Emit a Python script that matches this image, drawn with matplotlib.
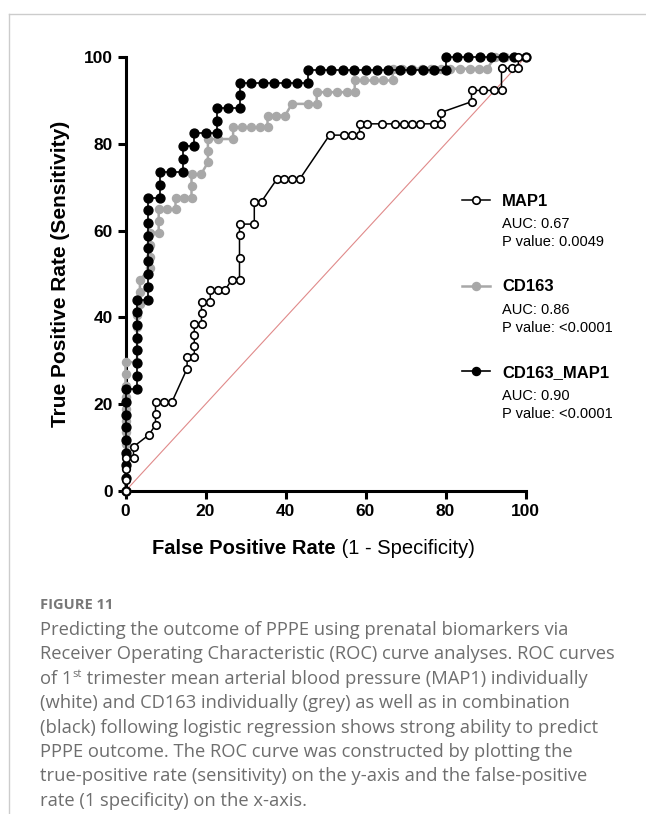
import matplotlib
matplotlib.use("Agg")
import matplotlib.pyplot as plt
from matplotlib.lines import Line2D

plt.rcParams["font.family"] = ["Liberation Sans", "DejaVu Sans"]

# ROC points (FPR %, TPR %)
map1_fpr = [0, 0, 0, 0, 2, 2, 5.8, 7.5, 7.5, 7.5, 9.5, 11.6, 15.4, 15.4, 17.2, 17.2,
            17.2, 17.2, 19, 19, 19, 21.2, 21.2, 23, 24.8, 26.6, 28.5, 28.5, 28.5, 28.5,
            32.2, 32.2, 34, 37.8, 39.6, 41.5, 43.5, 51, 54.5, 56.5, 58.5, 58.5, 60.3,
            64, 67.4, 69.5, 71.6, 73.5, 77, 78.8, 78.8, 86.5, 86.5, 89.4, 92, 94, 94,
            96.5, 98.2, 98.2, 100]
map1_tpr = [0, 2.5, 5, 7.6, 7.6, 10.2, 12.9, 15.2, 17.7, 20.5, 20.5, 20.5, 28.2, 30.8,
            30.8, 33.3, 35.9, 38.5, 38.5, 41, 43.6, 43.6, 46.2, 46.2, 46.2, 48.7, 48.7,
            53.8, 59, 61.5, 61.5, 66.7, 66.7, 71.8, 71.8, 71.8, 71.8, 82, 82, 82, 82,
            84.6, 84.6, 84.6, 84.6, 84.6, 84.6, 84.6, 84.6, 84.6, 87.2, 89.7, 92.3, 92.3,
            92.3, 92.3, 97.4, 97.4, 97.4, 100, 100]

cd163_fpr = [0, 0, 0, 0, 0, 0, 0, 0, 0, 0, 0, 0, 2.9, 2.9, 2.9, 2.9, 2.9, 3.6, 3.6,
             3.6, 6, 6, 6, 6, 8.3, 8.3, 8.3, 10.4, 12.5, 12.5, 14.5, 16.5, 16.5, 16.5,
             18.9, 20.6, 20.6, 20.6, 23.2, 26.9, 26.9, 29.1, 31.3, 33.5, 35.5, 35.5,
             37.7, 39.9, 41.6, 45.7, 47.8, 47.8, 50.3, 52.8, 55.3, 57.3, 57.3, 59.6, 62,
             64.4, 66.8, 66.8, 69.2, 71.6, 74, 76.4, 78.8, 81.2, 83.6, 86, 88.4, 90.4,
             92.4, 94.8, 97.2, 100]
cd163_tpr = [0, 2.7, 5.4, 8.1, 10.8, 13.5, 16.2, 18.9, 21.6, 24.3, 27, 29.7, 29.7, 32.4,
             35.1, 37.8, 40.5, 43.2, 45.9, 48.6, 51.3, 54, 56.7, 59.5, 59.5, 62.2, 64.9,
             64.9, 64.9, 67.6, 67.6, 67.6, 70.3, 73, 73, 75.7, 78.4, 81.1, 81.1, 81.1,
             83.8, 83.8, 83.8, 83.8, 83.8, 86.5, 86.5, 86.5, 89.2, 89.2, 89.2, 91.9, 91.9,
             91.9, 91.9, 91.9, 94.6, 94.6, 94.6, 94.6, 94.6, 97.3, 97.3, 97.3, 97.3,
             97.3, 97.3, 97.3, 97.3, 97.3, 97.3, 97.3, 100, 100, 100, 100]

combo_fpr = [0, 0, 0, 0, 0, 0, 0, 0, 0, 2.9, 2.9, 2.9, 2.9, 2.9, 2.9, 2.9, 2.9, 5.7,
             5.7, 5.7, 5.7, 5.7, 5.7, 5.7, 5.7, 5.7, 8.6, 8.6, 8.6, 11.4, 14.3, 14.3,
             14.3, 17.1, 17.1, 20, 22.9, 22.9, 22.9, 25.7, 28.6, 28.6, 28.6, 31.4, 34.3,
             37.1, 40, 42.9, 45.7, 45.7, 48.6, 51.4, 54.3, 57.1, 60, 62.9, 65.7, 68.6,
             71.4, 74.3, 77.1, 80, 80, 82.9, 85.7, 88.6, 91.4, 94.3, 97.1, 100]
combo_tpr = [0, 2.9, 5.9, 8.8, 11.8, 14.7, 17.6, 20.6, 23.5, 23.5, 26.5, 29.4, 32.4,
             35.3, 38.2, 41.2, 44.1, 44.1, 47.1, 50, 52.9, 55.9, 58.8, 61.8, 64.7, 67.6,
             67.6, 70.6, 73.5, 73.5, 73.5, 76.5, 79.4, 79.4, 82.4, 82.4, 82.4, 85.3,
             88.2, 88.2, 88.2, 91.2, 94.1, 94.1, 94.1, 94.1, 94.1, 94.1, 94.1, 97.1,
             97.1, 97.1, 97.1, 97.1, 97.1, 97.1, 97.1, 97.1, 97.1, 97.1, 97.1, 97.1,
             100, 100, 100, 100, 100, 100, 100, 100]

chance = [0, 100]
ticks = [0, 20, 40, 60, 80, 100]

names = ["MAP1", "CD163", "CD163_MAP1"]
stats = [("AUC: 0.67", "P value: 0.0049"),
         ("AUC: 0.86", "P value: <0.0001"),
         ("AUC: 0.90", "P value: <0.0001")]

caption = [
    "Predicting the outcome of PPPE using prenatal biomarkers via",
    "Receiver Operating Characteristic (ROC) curve analyses. ROC curves",
    None,
    "(white) and CD163 individually (grey) as well as in combination",
    "(black) following logistic regression shows strong ability to predict",
    "PPPE outcome. The ROC curve was constructed by plotting the",
    "true-positive rate (sensitivity) on the y-axis and the false-positive",
    "rate (1 specificity) on the x-axis.",
]

W, H = 646, 814
fig = plt.figure(figsize=(W / 100, H / 100), dpi=100)
fig.patch.set_facecolor("white")

def fx(px):
    return px / W

def fy(py):
    return 1 - py / H

ax = fig.add_axes([fx(125.5), fy(491), 400 / W, 434 / H])
ax.set_xlim(0, 100)
ax.set_ylim(0, 100)
for s in ["top", "right"]:
    ax.spines[s].set_visible(False)
for s in ["left", "bottom"]:
    ax.spines[s].set_linewidth(2.2)
ax.tick_params(direction="out", length=6, width=2.2, pad=3, labelsize=12.5)
ax.set_xticks(ticks, labels=[str(t) for t in ticks], fontweight="bold")
ax.set_yticks(ticks, labels=[str(t) for t in ticks], fontweight="bold")

ax.plot(chance, chance, color="#e08a8a", lw=0.8, zorder=2)
ax.plot(cd163_fpr, cd163_tpr, color="#a8a8a8", lw=1.8, marker="o", ms=5.8,
        mfc="#a8a8a8", mec="#a8a8a8", clip_on=False, zorder=3)
ax.plot(combo_fpr, combo_tpr, color="black", lw=1.2, marker="o", ms=6.4,
        mfc="black", mec="black", clip_on=False, zorder=4)
ax.plot(map1_fpr, map1_tpr, color="black", lw=1.1, marker="o", ms=5.4,
        mfc="white", mec="black", mew=1.2, clip_on=False, zorder=5)

ax.set_ylabel("True Positive Rate (Sensitivity)", fontsize=15, fontweight="bold")
ax.yaxis.set_label_coords(-0.139, 0.5)

# x label: bold part + regular part
xl1 = fig.text(fx(152), fy(548), "False Positive Rate", fontsize=14.5,
               fontweight="bold", va="center", ha="left")
ax.annotate(" (1 - Specificity)", xy=(1, 0), xycoords=xl1, va="bottom", ha="left",
            fontsize=14.5, annotation_clip=False)

# legend
handles = [
    Line2D([], [], color="black", lw=1.1, marker="o", ms=5.4, mfc="white", mec="black", mew=1.2),
    Line2D([], [], color="#a8a8a8", lw=1.8, marker="o", ms=5.8, mfc="#a8a8a8", mec="#a8a8a8"),
    Line2D([], [], color="black", lw=1.2, marker="o", ms=5.8, mfc="black", mec="black"),
]
leg = fig.legend(handles, names, loc="upper left", bbox_to_anchor=(fx(462), fy(194)),
                 frameon=False, borderpad=0, borderaxespad=0, handlelength=1.68,
                 handletextpad=0.72, labelspacing=4.22,
                 prop={"weight": "bold", "size": 12})
for i, (auc, pv) in enumerate(stats):
    y0 = 200 + 86 * i
    fig.text(fx(502), fy(y0 + 24), auc, fontsize=10.5, va="center", ha="left")
    fig.text(fx(502), fy(y0 + 42), pv, fontsize=10.5, va="center", ha="left")

# caption
cap_col = "#6e6e6e"
cap_font = "Open Sans"
cap_size = 13.25
fig.text(fx(40), fy(605), "FIGURE 11", fontsize=10.5, fontweight="bold", color="#777777",
         family=cap_font, va="center", ha="left")
for i, line in enumerate(caption):
    y = 630 + 24.4 * i
    if line is None:
        a = fig.text(fx(40), fy(y), "of 1", fontsize=cap_size, color=cap_col, family=cap_font,
                     va="center", ha="left")
        b = ax.annotate("st", xy=(1, 0.45), xycoords=a, va="bottom", ha="left",
                        fontsize=8, color=cap_col, family=cap_font, annotation_clip=False)
        ax.annotate(" trimester mean arterial blood pressure (MAP1) individually",
                    xy=(1, 0), xycoords=(b, a), va="bottom", ha="left", fontsize=cap_size,
                    color=cap_col, family=cap_font, annotation_clip=False)
    else:
        fig.text(fx(40), fy(y), line, fontsize=cap_size, color=cap_col, family=cap_font,
                 va="center", ha="left")

# page frame
fig.add_artist(Line2D([fx(9), 1], [fy(14), fy(14)], transform=fig.transFigure,
                      color="#cccccc", lw=1))
fig.add_artist(Line2D([fx(9), fx(9)], [0, fy(14)], transform=fig.transFigure,
                      color="#cccccc", lw=1))

fig.savefig("out.png", dpi=100, facecolor="white")
